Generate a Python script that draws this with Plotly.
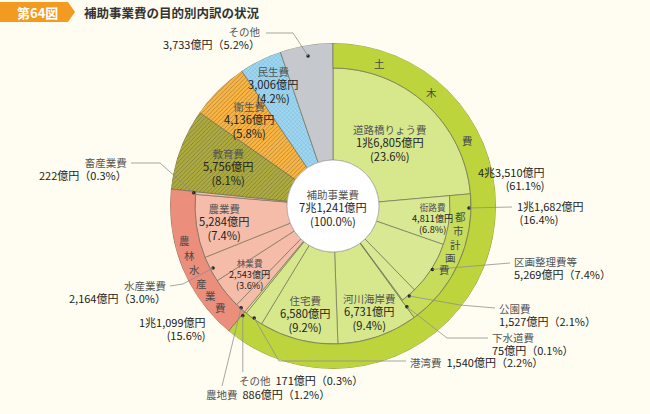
import math
import plotly.graph_objects as go

# ---------------- data (億円 / %) ----------------
top_names  = ["土木費", "農林水産業費", "教育費", "衛生費", "民生費", "その他"]
top_values = [43510, 11099, 5756, 4136, 3006, 3733]
top_pcts   = [61.1, 15.6, 8.1, 5.8, 4.2, 5.2]

doboku_names  = ["道路橋りょう費", "都市計画費", "河川海岸費", "住宅費", "港湾費", "その他"]
doboku_values = [16805, 11682, 6731, 6580, 1540, 171]
doboku_pcts   = [23.6, 16.4, 9.4, 9.2, 2.2, 0.3]

toshi_names  = ["街路費", "区画整理費等", "公園費", "下水道費"]
toshi_values = [4811, 5269, 1527, 75]
toshi_pcts   = [6.8, 7.4, 2.1, 0.1]

norin_names  = ["農地費", "林業費", "水産業費", "農業費", "畜産業費"]
norin_values = [886, 2543, 2164, 5284, 222]
norin_pcts   = [1.2, 3.6, 3.0, 7.4, 0.3]

total_name  = "補助事業費"
total_value = 71241
total_pct   = 100.0

# ---------------- geometry / style ----------------
W, H = 650, 414
cx, cy = 333, 206
R_out, R_ring, R_toshi, R_hole = 163, 138, 117, 46
BG = "#fffdf1"
FONT = "Noto Sans CJK JP"
NAME_C, NUM_C = "#555555", "#222222"


def fmt(v):
    if v >= 10000:
        return f"{v // 10000}兆{v % 10000:,}億円"
    return f"{v:,}億円"


deg = 360.0 / sum(top_values)
span = {}
pos = 0.0
for n, v in zip(top_names, top_values):
    span[("top", n)] = (pos, pos + v * deg)
    pos += v * deg
pos = span[("top", "土木費")][0]
for n, v in zip(doboku_names, doboku_values):
    span[("doboku", n)] = (pos, pos + v * deg)
    pos += v * deg
pos = span[("doboku", "都市計画費")][0]
for n, v in zip(toshi_names, toshi_values):
    span[("toshi", n)] = (pos, pos + v * deg)
    pos += v * deg
pos = span[("top", "農林水産業費")][0]
for n, v in zip(norin_names, norin_values):
    span[("norin", n)] = (pos, pos + v * deg)
    pos += v * deg


def mid(key):
    s, e = span[key]
    return (s + e) / 2


G_in, G_tin, G_tring, G_ring = "#d6e78c", "#d8e893", "#c8dc5c", "#bdd43d"
N_in, N_ring = "#f5bcaa", "#ec8e7c"
top_colors = {"教育費": "#aeab3e", "衛生費": "#fbb540", "民生費": "#9cd8f4", "その他": "#c5c8cc"}
top_pat = {"教育費": ("/", "#908d2a", 3, 0.25), "衛生費": ("/", "#f6a932", 3, 0.25),
           "民生費": ("x", "#87cff0", 3, 0.15), "その他": ("", "#c5c8cc", 3, 0.2)}
NOPAT = ("", "#ffffff", 3, 0.2)

bars = []  # key, base, top, color, (shape, fg, size, sol)
for n in doboku_names:
    if n == "都市計画費":
        continue
    bars.append((("doboku", n), R_hole, R_ring, G_in, NOPAT))
for n in toshi_names:
    bars.append((("toshi", n), R_hole, R_toshi, G_tin, NOPAT))
for n in norin_names:
    bars.append((("norin", n), R_hole, R_ring, N_in, NOPAT))
for n in top_names[2:]:
    bars.append((("top", n), R_hole, R_out, top_colors[n], top_pat[n]))
bars.append((("doboku", "都市計画費"), R_toshi, R_ring, G_tring, NOPAT))
bars.append((("top", "土木費"), R_ring, R_out, G_ring, NOPAT))
bars.append((("top", "農林水産業費"), R_ring, R_out, N_ring, NOPAT))

fig = go.Figure()
fig.add_trace(go.Barpolar(
    theta=[mid(b[0]) for b in bars],
    width=[span[b[0]][1] - span[b[0]][0] for b in bars],
    base=[b[1] for b in bars],
    r=[b[2] - b[1] for b in bars],
    marker=dict(
        color=[b[3] for b in bars],
        line=dict(color="#66664f", width=0.6),
        pattern=dict(fillmode="overlay",
                     shape=[b[4][0] for b in bars],
                     fgcolor=[b[4][1] for b in bars],
                     size=[b[4][2] for b in bars],
                     solidity=[b[4][3] for b in bars]),
    ),
    hoverinfo="skip",
))


def p2px(r, th):
    t = math.radians(th)
    return cx + r * math.sin(t), cy - r * math.cos(t)


def paper(x, y):
    return x / W, 1 - y / H


def sp(s, size, color):
    return f"<span style='font-size:{size}px;color:{color}'>{s}</span>"


ann = []


def A(x, y, text, anchor="left", color=NUM_C, size=11):
    ann.append(dict(x=x / W, y=1 - y / H, xref="paper", yref="paper", text=text,
                    showarrow=False, xanchor=anchor, yanchor="middle",
                    align=anchor if anchor != "center" else "center",
                    font=dict(family=FONT, size=size, color=color)))


BASE = 10.2  # line spacing = 1.3 * BASE

# ---------------- inner labels (placed at slice centres) ----------------
inner = [
    (("doboku", "道路橋りょう費"), 85, 1.0, doboku_values[0], doboku_pcts[0]),
    (("toshi", "街路費"), 100, 0.82, toshi_values[0], toshi_pcts[0]),
    (("doboku", "河川海岸費"), 112, 1.0, doboku_values[2], doboku_pcts[2]),
    (("doboku", "住宅費"), 112, 1.0, doboku_values[3], doboku_pcts[3]),
    (("norin", "林業費"), 108, 0.82, norin_values[1], norin_pcts[1]),
    (("norin", "農業費"), 110, 1.0, norin_values[3], norin_pcts[3]),
    (("top", "教育費"), 112, 1.0, top_values[2], top_pcts[2]),
    (("top", "衛生費"), 120, 1.0, top_values[3], top_pcts[3]),
    (("top", "民生費"), 135, 1.0, top_values[4], top_pcts[4]),
]
for key, r, k, v, p in inner:
    x, y = p2px(r, mid(key))
    A(x, y, sp(key[1], 10.5 * k, NAME_C) + "<br>" + sp(fmt(v), 11.2 * k, NUM_C) + "<br>"
      + sp(f"({p}%)", 11.2 * k, NUM_C), "center", NUM_C, BASE * k)

# ring characters
rings = []
for k, ch in enumerate("土木費"):
    rings.append((150, 18 + 23 * k, ch))
for k, ch in enumerate("都市計画費"):
    rings.append((128, span[("doboku", "都市計画費")][0] + 10 + 6.2 * k, ch))
for k, ch in enumerate("農林水産業費"):
    rings.append((152, span[("top", "農林水産業費")][1] - 19 - 5.8 * k, ch))
for r, th, ch in rings:
    x, y = p2px(r, th)
    A(x, y, ch, "center", "#4a4a4a", 10.5)

# ---------------- leader lines ----------------
leaders = []  # (anchor r, anchor theta, [points...])
leaders.append((152, mid(("top", "その他")), [(293, 33), (266, 33)]))
leaders.append((140, mid(("norin", "畜産業費")), [(160, 163), (131, 163)]))
leaders.append((135, mid(("norin", "水産業費")), [(183, 284), (170, 286)]))
leaders.append((137, mid(("norin", "農地費")), [(222, 386)]))
a_sono = p2px(142, mid(("doboku", "その他")))
leaders.append((142, mid(("doboku", "その他")), [(a_sono[0], 372)]))
leaders.append((137, mid(("doboku", "港湾費")), [(279, 361), (406, 361)]))
leaders.append((125, mid(("toshi", "下水道費")), [(447, 338), (488, 338)]))
leaders.append((118, mid(("toshi", "公園費")), [(460, 305), (495, 308)]))
leaders.append((118, mid(("toshi", "区画整理費等")), [(510, 263)]))
ts, te = span[("doboku", "都市計画費")]
leaders.append((136, ts + 0.1 * (te - ts), [(512, 207)]))

shapes = []
for r, th, pts in leaders:
    x0, y0 = p2px(r, th)
    path = "M {:.5f},{:.5f}".format(*paper(x0, y0))
    for (x, y) in pts:
        path += " L {:.5f},{:.5f}".format(*paper(x, y))
    shapes.append(dict(type="path", path=path, xref="paper", yref="paper",
                       line=dict(color="#8f8f8f", width=0.8), layer="above"))

fig.add_trace(go.Scatterpolar(
    r=[l[0] for l in leaders], theta=[l[1] for l in leaders], mode="markers",
    marker=dict(size=3.5, color="#222"), cliponaxis=False, hoverinfo="skip",
))

# center circle
shapes.insert(0, dict(type="circle", xref="paper", yref="paper",
                      x0=(cx - R_hole) / W, x1=(cx + R_hole) / W,
                      y0=1 - (cy + R_hole) / H, y1=1 - (cy - R_hole) / H,
                      fillcolor="white", line=dict(color="#b0b0b0", width=0.8), layer="above"))
# title badge
bx = [(0, 2), (68, 2), (75, 12), (68, 22), (0, 22)]
shapes.append(dict(type="path", xref="paper", yref="paper",
                   path="M " + " L ".join("{:.5f},{:.5f}".format(*paper(x, y)) for x, y in bx) + " Z",
                   fillcolor="#f39a21", line=dict(width=0), layer="above"))

# ---------------- outer annotations ----------------
def two(name, value):
    return sp(name, 10.5, NAME_C) + "<br>" + sp(value, 11, NUM_C)


def one(name, value):
    return f"{sp(name, 10.5, NAME_C)}  {sp(value, 11, NUM_C)}"


A(37, 12, "<b>第64図</b>", "center", "white", 13)
A(82, 12, "<b>補助事業費の目的別内訳の状況</b>", "left", "#333333", 12.5)

A(cx, cy + 2, sp(total_name, 10.5, NAME_C) + "<br>" + sp(fmt(total_value), 11.2, NUM_C)
  + "<br>" + sp(f"({total_pct:.1f}%)", 11.2, NUM_C), "center", NUM_C, BASE)

A(262, 38, two("その他", f"{fmt(top_values[5])}（{top_pcts[5]}%）"), "right", NUM_C, BASE)
A(129, 169, two("畜産業費", f"{fmt(norin_values[4])}（{norin_pcts[4]}%）"), "right", NUM_C, BASE)
A(168, 292, two("水産業費", f"{fmt(norin_values[2])}（{norin_pcts[2]}%）"), "right", NUM_C, BASE)
A(208, 328, sp(fmt(top_values[1]), 11, NUM_C) + "<br>" + sp(f"({top_pcts[1]}%)", 11, NUM_C),
  "right", NUM_C, BASE)
A(204, 394, one("農地費", f"{fmt(norin_values[0])}（{norin_pcts[0]}%）"), "left", NUM_C, 11)
A(237, 380, one("その他", f"{fmt(doboku_values[5])}（{doboku_pcts[5]}%）"), "left", NUM_C, 11)
A(408, 362, one("港湾費", f"{fmt(doboku_values[4])}（{doboku_pcts[4]}%）"), "left", NUM_C, 11)
A(490, 344, two("下水道費", f"{fmt(toshi_values[3])}（{toshi_pcts[3]}%）"), "left", NUM_C, BASE)
A(497, 315, two("公園費", f"{fmt(toshi_values[2])}（{toshi_pcts[2]}%）"), "left", NUM_C, BASE)
A(512, 268, two("区画整理費等", f"{fmt(toshi_values[1])}（{toshi_pcts[1]}%）"), "left", NUM_C, BASE)
A(515, 212, sp(fmt(doboku_values[1]), 11, NUM_C) + "<br>" + sp(f" ({doboku_pcts[1]}%)", 11, NUM_C),
  "left", NUM_C, BASE)
A(547, 178, sp(fmt(top_values[0]), 11, NUM_C) + "<br>" + sp(f"({top_pcts[0]}%)", 11, NUM_C),
  "right", NUM_C, BASE)

fig.update_layout(
    width=W, height=H, margin=dict(l=0, r=0, t=0, b=0),
    paper_bgcolor=BG, plot_bgcolor=BG, showlegend=False,
    font=dict(family=FONT),
    polar=dict(
        domain=dict(x=[(cx - R_out) / W, (cx + R_out) / W],
                    y=[1 - (cy + R_out) / H, 1 - (cy - R_out) / H]),
        bgcolor="rgba(0,0,0,0)",
        radialaxis=dict(range=[0, R_out], visible=False),
        angularaxis=dict(rotation=90, direction="clockwise", visible=False),
    ),
    shapes=shapes, annotations=ann,
)

fig.write_html("out.html", config={"displayModeBar": False},
               post_script="document.body.style.margin='0px';document.body.style.background='" + BG + "';")
